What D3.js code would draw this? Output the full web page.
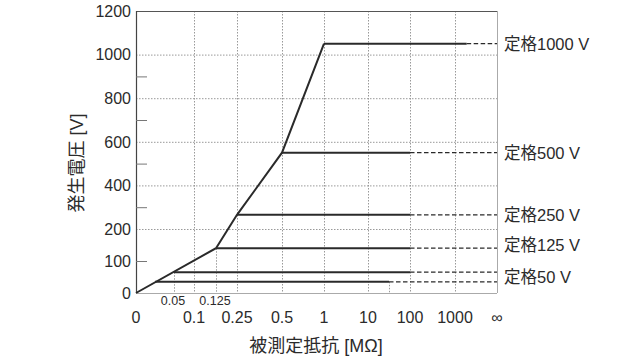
<!DOCTYPE html>
<html lang="ja">
<head>
  <meta charset="UTF-8">
  <title>発生電圧</title>
  <script src="https://cdn.jsdelivr.net/npm/d3@7/dist/d3.min.js"></script>
  <style>
    html, body { margin: 0; background: #fff; }
    svg text { font-family: "Liberation Sans", Arial, "Noto Sans CJK JP", sans-serif; fill: #2b2b2b; }
  </style>
</head>
<body>
  <script>
    const width = 640
    const height = 360

    // 抵抗値の目盛 (∞ は 10000 で代用)
    const INF = 10000
    const xBreaks = [0, 0.05, 0.1, 0.125, 0.25, 0.5, 1, 10, 100, 1000, INF]
    const xMainTicks = [0, 0.1, 0.25, 0.5, 1, 10, 100, 1000, INF]
    const xMainLabels = ['0', '0.1', '0.25', '0.5', '1', '10', '100', '1000', '∞']
    const xSubTicks = [0.05, 0.125]
    const xGrid = [0.1, 0.25, 0.5, 1, 10, 100, 1000]

    // 電圧の目盛
    const yLabelTicks = [0, 100, 200, 400, 600, 800, 1000, 1200]
    const yGrid = [200, 400, 600, 800, 1000]
    const yMinorTicks = [100, 300, 500, 700, 900]

    // 発生電圧の曲線
    const curveR = [0, 0.125, 0.25, 0.5, 1]
    const curveV = [0, 140, 265, 550, 1050]

    // 各定格の水平線: 始点, 実線の終点, 電圧
    const lineStart = [1, 0.5, 0.25, 0.125, 0.05, 0.025]
    const lineSolidEnd = [3500, 100, 100, 100, 100, 55]
    const lineVolt = [1050, 550, 265, 140, 65, 35]

    // 定格ラベル
    const ratingLabels = ['定格1000 V', '定格500 V', '定格250 V', '定格125 V', '定格50 V']
    const ratingVolt = [1050, 550, 265, 140, 50]

    const svg = d3.select('body').append('svg')
      .attr('width', width)
      .attr('height', height)

    const pLeft = 136, pRight = 497, pTop = 11, pBottom = 293

    // x: 区間ごとの線形スケール
    const xScale = d3.scaleLinear()
      .domain(xBreaks)
      .range([136, 174, 194, 216, 237, 282, 324, 368, 410, 455, 497])

    // y: 0-200 と 200-1200 で縮尺が違う
    const yScale = d3.scaleLinear()
      .domain([0, 200, 1200])
      .range([pBottom, 229, pTop])

    const grid = svg.append('g')
      .attr('stroke', '#999')
      .attr('stroke-width', 1)
      .attr('stroke-dasharray', '1.5,1.5')

    // 縦の点線
    grid.selectAll('.vgrid')
      .data(xGrid)
      .enter()
      .append('line')
      .attr('x1', d => xScale(d) + 0.5)
      .attr('x2', d => xScale(d) + 0.5)
      .attr('y1', pTop)
      .attr('y2', pBottom)

    // 短い縦線 (曲線まで)
    const shortV = [[0.05, 65], [0.125, 140], [55, 35]]
    grid.selectAll('.vshort')
      .data(shortV)
      .enter()
      .append('line')
      .attr('x1', d => xScale(d[0]) + 0.5)
      .attr('x2', d => xScale(d[0]) + 0.5)
      .attr('y1', d => yScale(d[1]))
      .attr('y2', pBottom)

    // 横の点線
    grid.selectAll('.hgrid')
      .data(yGrid)
      .enter()
      .append('line')
      .attr('x1', pLeft)
      .attr('x2', pRight)
      .attr('y1', d => yScale(d) + 0.5)
      .attr('y2', d => yScale(d) + 0.5)

    // 枠
    svg.append('line')
      .attr('x1', pRight + 0.5).attr('x2', pRight + 0.5)
      .attr('y1', pTop).attr('y2', pBottom)
      .attr('stroke', '#aaa')
    svg.append('line')
      .attr('x1', pLeft).attr('x2', pRight)
      .attr('y1', pBottom + 0.5).attr('y2', pBottom + 0.5)
      .attr('stroke', '#aaa')
    svg.append('line')
      .attr('x1', pLeft).attr('x2', pRight)
      .attr('y1', pTop + 0.5).attr('y2', pTop + 0.5)
      .attr('stroke', '#555')
    svg.append('line')
      .attr('x1', pLeft + 0.5).attr('x2', pLeft + 0.5)
      .attr('y1', pTop).attr('y2', pBottom)
      .attr('stroke', '#444')
      .attr('stroke-width', 1.2)

    // 内側の短い目盛
    svg.selectAll('.minor')
      .data(yMinorTicks)
      .enter()
      .append('line')
      .attr('x1', pLeft)
      .attr('x2', pLeft + 11)
      .attr('y1', d => yScale(d) + 0.5)
      .attr('y2', d => yScale(d) + 0.5)
      .attr('stroke', '#777')

    // y 目盛ラベル
    svg.selectAll('.ylab')
      .data(yLabelTicks)
      .enter()
      .append('text')
      .attr('x', 131)
      .attr('y', d => yScale(d))
      .attr('dy', '0.36em')
      .attr('text-anchor', 'end')
      .attr('font-size', 16)
      .text(d => d)

    // x 目盛ラベル
    svg.selectAll('.xlab')
      .data(xMainTicks)
      .enter()
      .append('text')
      .attr('x', d => xScale(d))
      .attr('y', 323)
      .attr('text-anchor', 'middle')
      .attr('font-size', 16)
      .text((d, i) => xMainLabels[i])

    svg.selectAll('.xsub')
      .data(xSubTicks)
      .enter()
      .append('text')
      .attr('x', d => xScale(d) - 1)
      .attr('y', 305)
      .attr('text-anchor', 'middle')
      .attr('font-size', 12.5)
      .text(d => d)

    // 曲線
    const line = d3.line()
      .x(d => xScale(d[0]))
      .y(d => yScale(d[1]))

    svg.append('path')
      .datum(curveR.map((r, i) => [r, curveV[i]]))
      .attr('d', line)
      .attr('fill', 'none')
      .attr('stroke', '#2a2a2a')
      .attr('stroke-width', 2)

    // 水平線 (実線 + 破線)
    lineVolt.forEach((v, i) => {
      svg.append('path')
        .datum([[lineStart[i], v], [lineSolidEnd[i], v]])
        .attr('d', line)
        .attr('fill', 'none')
        .attr('stroke', '#2a2a2a')
        .attr('stroke-width', 2)
      svg.append('path')
        .datum([[lineSolidEnd[i], v], [INF, v]])
        .attr('d', line)
        .attr('fill', 'none')
        .attr('stroke', '#2a2a2a')
        .attr('stroke-width', 1.3)
        .attr('stroke-dasharray', '4.5,2.5')
    })

    // 定格ラベル
    svg.selectAll('.rating')
      .data(ratingLabels)
      .enter()
      .append('text')
      .attr('x', 504)
      .attr('y', (d, i) => yScale(ratingVolt[i]) - (i === 3 ? 3 : 0))
      .attr('dy', '0.36em')
      .attr('font-size', 16.5)
      .text(d => d)

    // 軸タイトル
    svg.append('text')
      .attr('x', 316)
      .attr('y', 352)
      .attr('text-anchor', 'middle')
      .attr('font-size', 18)
      .text('被測定抵抗 [MΩ]')

    svg.append('text')
      .attr('transform', 'translate(83, 163) rotate(-90)')
      .attr('text-anchor', 'middle')
      .attr('font-size', 18)
      .text('発生電圧 [V]')
  </script>
</body>
</html>
